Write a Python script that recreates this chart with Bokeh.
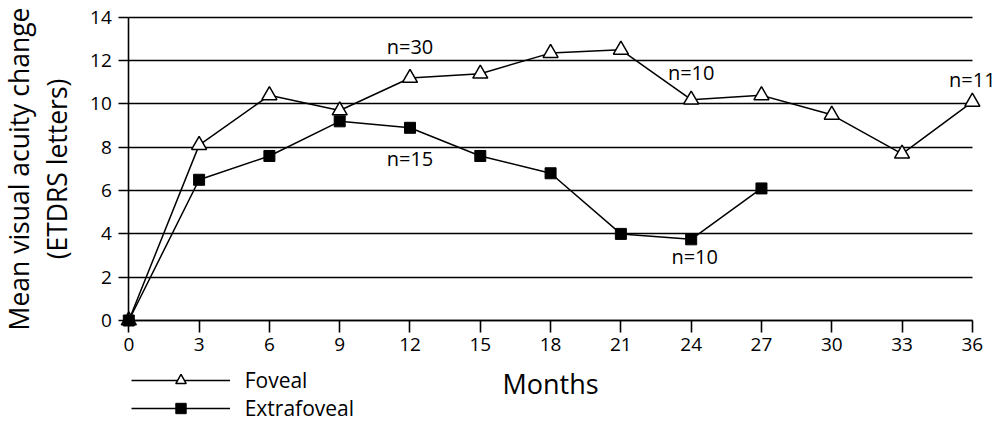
from bokeh.plotting import figure
from bokeh.models import Range1d, Legend, LegendItem, FixedTicker
from bokeh.core.properties import value
from bokeh.embed import file_html
from bokeh.resources import INLINE

# ---- data ----
months = [0, 3, 6, 9, 12, 15, 18, 21, 24, 27, 30, 33, 36]
foveal = [0, 8.1, 10.4, 9.7, 11.2, 11.4, 12.35, 12.5, 10.2, 10.4, 9.5, 7.7, 10.1]
extra_months = [0, 3, 6, 9, 12, 15, 18, 21, 24, 27]
extrafoveal = [0, 6.5, 7.6, 9.2, 8.9, 7.6, 6.8, 4.0, 3.75, 6.1]
ann_text = ["n=30", "n=15", "n=10", "n=11", "n=10"]
ann_x = [12, 12, 24, 36, 24.15]
ann_y = [12.65, 7.5, 11.45, 11.15, 2.95]
y_ticks = [0, 2, 4, 6, 8, 10, 12, 14]
x_ticks = months

FONT = "Open Sans"

# the frame covers the whole canvas so that the axes (placed at 0) and the
# legend below the plot area are not clipped
p = figure(width=1007, height=423,
           x_range=Range1d(-5.476, 37.50), y_range=Range1d(-4.757, 14.78),
           output_backend="svg", toolbar_location=None,
           min_border_left=0, min_border_right=0,
           min_border_top=0, min_border_bottom=0)
p.outline_line_color = None
p.background_fill_color = "white"
p.border_fill_color = "white"

# grid
p.xgrid.visible = False
p.ygrid.ticker = FixedTicker(ticks=y_ticks)
p.ygrid.grid_line_color = "black"
p.ygrid.grid_line_width = 1.6
p.ygrid.cross_bounds = (0, 36)

# axes
for ax in (p.xaxis[0], p.yaxis[0]):
    ax.fixed_location = 0
    ax.axis_line_color = "black"
    ax.axis_line_width = 1.6
    ax.major_tick_line_color = "black"
    ax.major_tick_line_width = 1.6
    ax.major_tick_in = 0
    ax.minor_tick_line_color = None
    ax.major_label_text_font = FONT
    ax.major_label_text_font_size = "19px"
    ax.major_label_text_color = "black"
    ax.axis_label_text_font = FONT
    ax.axis_label_text_font_style = "normal"
    ax.axis_label_text_color = "black"

p.xaxis.bounds = (0, 36)
p.xaxis.ticker = FixedTicker(ticks=x_ticks)
p.xaxis.major_tick_out = 12
p.xaxis.major_label_standoff = 5
p.xaxis.axis_label = "Months"
p.xaxis.axis_label_standoff = 11
p.xaxis.axis_label_text_font_size = "27px"

p.yaxis.bounds = (0, 14)
p.yaxis.ticker = FixedTicker(ticks=y_ticks)
p.yaxis.major_tick_out = 10
p.yaxis.major_label_standoff = 7
p.yaxis.major_label_orientation = "horizontal"
p.yaxis.axis_label = "Mean visual acuity change\n(ETDRS letters)"
p.yaxis.axis_label_standoff = 12
p.yaxis.axis_label_text_font_size = "26.5px"
p.yaxis.axis_label_text_line_height = 1.05

# series (extrafoveal drawn on top, as in the reference)
fl = p.line(months, foveal, line_color="black", line_width=1.5)
fm = p.scatter(months, foveal, marker="triangle", size=15,
               fill_color="white", line_color="black", line_width=1.5)
el = p.line(extra_months, extrafoveal, line_color="black", line_width=1.5)
em = p.scatter(extra_months, extrafoveal, marker="square", size=11,
               fill_color="black", line_color="black", line_width=1)

# n annotations
p.text(ann_x, ann_y, text=ann_text, text_align="center", text_baseline="middle",
       text_font=value(FONT), text_font_size="20px", text_color="black")

legend = Legend(items=[LegendItem(label="Foveal", renderers=[fl, fm]),
                       LegendItem(label="Extrafoveal", renderers=[el, em])],
                location=(130.7, 1), orientation="vertical",
                glyph_width=99, glyph_height=26, label_standoff=15, spacing=0,
                padding=0, margin=0, border_line_color=None,
                background_fill_alpha=0,
                label_text_font=FONT, label_text_font_size="21px",
                label_text_color="black", label_height=26)
p.add_layout(legend)

open("out.html", "w").write(file_html(p, INLINE))
